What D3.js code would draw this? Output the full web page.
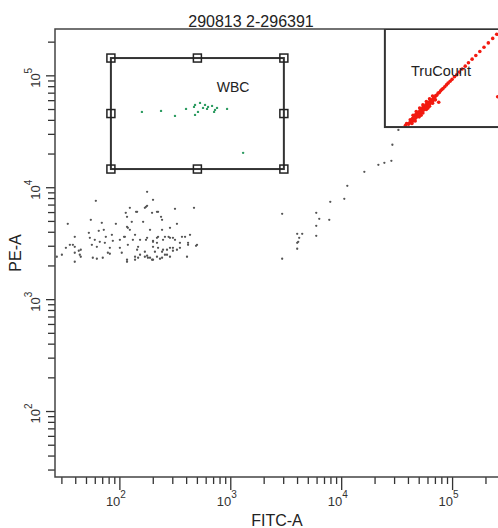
<!DOCTYPE html>
<html lang="en">
<head>
<meta charset="UTF-8">
<title>290813 2-296391</title>
<script src="https://d3js.org/d3.v7.min.js"></script>
<style>
  body { margin: 0; background: #fff; }
  svg { display: block; font-family: "Liberation Sans", Arial, sans-serif; }
</style>
</head>
<body>
<svg id="chart" width="498" height="528"></svg>
<script>
// events: [FITC-A, PE-A]
const otherEvents = [
  [60.7, 7638], [54.7, 5169], [33.9, 4761], [68.7, 4860], [92.0, 4761], [52.5, 3957], [64.5, 4123],
  [71.6, 4209], [116, 4476], [39.2, 3644], [53.6, 3570], [59.4, 3427], [65.9, 3289], [73.2, 3222],
  [84.7, 3797], [100, 3427], [35.4, 3092], [32.6, 2907], [39.2, 2967], [44.4, 2790], [55.9, 3092],
  [62.0, 2967], [81.2, 2907], [100, 2907], [30.0, 2518], [27.0, 2416], [39.2, 2623], [44.4, 2416],
  [57.0, 2367], [62.0, 2319], [70.1, 2367], [77.9, 2623], [104, 2623], [39.2, 2180], [116, 2180],
  [74.7, 3644], [86.4, 3357], [43.5, 2518], [37.7, 3092], [42.6, 2734], [109, 3644], [81.2, 2570],
  [176, 9190], [199, 7797], [123, 6615], [143, 6092], [168, 6615], [176, 6893], [195, 5968],
  [221, 6092], [235, 5496], [240, 5169], [314, 6480], [466, 6615], [116, 5496], [128, 4961],
  [118, 4385], [123, 4209], [162, 4961], [187, 4209], [240, 4209], [283, 4385], [327, 4761],
  [111, 3644], [137, 3797], [152, 3427], [176, 3570], [199, 3357], [216, 3222], [221, 3644],
  [255, 3644], [283, 3570], [314, 3427], [348, 3222], [387, 3644], [429, 3797], [412, 3092],
  [486, 3029], [118, 3092], [146, 2967], [143, 2790], [168, 2678], [199, 2967], [221, 2907],
  [240, 2678], [266, 2790], [301, 2907], [327, 2790], [116, 2272], [137, 2416], [152, 2518],
  [168, 2416], [179, 2367], [195, 2272], [216, 2416], [240, 2367], [255, 2518], [283, 2416],
  [403, 2416], [131, 3427], [245, 3427], [301, 2734], [363, 3644], [207, 2678], [230, 2319],
  [172, 3427], [275, 3644], [113, 5968], [140, 6092], [172, 6752], [216, 6092], [496, 3092],
  [412, 3222], [245, 2790], [283, 2907], [348, 2907], [199, 2272], [266, 2518], [199, 3289],
  [216, 3570], [301, 3570], [137, 2272], [146, 2367], [176, 2466], [187, 2367],
  [32460, 32890], [28650, 24210], [28060, 17390], [24260, 16690], [21415, 16020], [16007, 13870],
  [11236, 10400], [7890, 7483], [10556, 7960], [2906, 5848], [5896, 5970], [6278, 5276],
  [7727, 5169], [5896, 4569], [3971, 3876], [4406, 3876], [4139, 3570], [3971, 3222],
  [4054, 3289], [5896, 3720], [3971, 2848], [2906, 2319]
];

const wbcEvents = [
  [158, 47620], [235, 48610], [314, 43850], [395, 50650], [476, 54990], [466, 52780], [528, 57280],
  [562, 51700], [506, 47620], [476, 44760], [586, 54990], [624, 52780], [611, 50650], [678, 53870],
  [721, 49620], [707, 47620], [752, 51700], [926, 50650], [1292, 20490]
];

const truCountEvents = [
  [37500, 36000], [38500, 37500], [40000, 37000],
  [41000, 38000], [41500, 40500], [42500, 39000], [43500, 41500], [44000, 39500], [45000, 43500],
  [45500, 41000], [46500, 45000], [47000, 42500], [48000, 46000], [48500, 44000], [49500, 47500],
  [50000, 45000], [51000, 49000], [51500, 46500], [52500, 50500], [53000, 48000], [54000, 52000],
  [55000, 49500], [55500, 53500], [56500, 51000], [57500, 55000], [58000, 52500], [59000, 56500],
  [60000, 54000], [61000, 58000], [62000, 56000], [63000, 59500], [64000, 57500], [65000, 61000],
  [66500, 60000], [67500, 63500], [69000, 64000], [70500, 66500], [72000, 67000], [74000, 70000],
  [76000, 71000], [78000, 73500], [80000, 75500], [82000, 77000],
  [44000, 44500], [47000, 48000], [50500, 51500], [54000, 55000], [58000, 59000], [62000, 62500],
  [66000, 66000], [46000, 39500], [50000, 43000], [54000, 46500], [58000, 50000], [62000, 53500],
  [66000, 57000], [70000, 61000], [43000, 37500], [52000, 44500], [60000, 51500],
  [85000, 80000], [88000, 83000], [91000, 86000], [95000, 89500], [99000, 93000], [104000, 98000],
  [109000, 102000], [115000, 108000], [122000, 115000], [130000, 122000], [139000, 131000],
  [150000, 141000], [162000, 152000], [176000, 165000], [192000, 180000], [210000, 197000],
  [230000, 216000], [250000, 235000], [75000, 58000], [255000, 65000]
];

// gates: [x min, x max, y min, y max]
const wbcGate = [83, 3011, 14690, 144200];
const truCountGate = [24520, 400000, 34860, 262143];

const decades = [2, 3, 4, 5];
const minorSteps = [2, 3, 4, 5, 6, 7, 8, 9];

const svg = d3.select('#chart');
const plotLeft = 55, plotRight = 499, plotTop = 29, plotBottom = 477;

const x = d3.scaleLog().domain([26, 262143]).range([plotLeft, plotRight]);
const y = d3.scaleLog().domain([26, 262143]).range([plotBottom, plotTop]);

svg.append('defs').append('clipPath').attr('id', 'plot')
  .append('rect').attr('x', plotLeft).attr('y', plotTop)
  .attr('width', plotRight - plotLeft).attr('height', plotBottom - plotTop);

// title and axis names
svg.append('text').attr('x', 251).attr('y', 27).attr('text-anchor', 'middle')
  .attr('font-size', 16).attr('fill', '#222').text('290813 2-296391');
svg.append('text').attr('x', (plotLeft + plotRight) / 2).attr('y', 526).attr('text-anchor', 'middle')
  .attr('font-size', 16).attr('fill', '#222').text('FITC-A');
svg.append('text').attr('transform', `translate(21,${(plotTop + plotBottom) / 2}) rotate(-90)`)
  .attr('text-anchor', 'middle').attr('font-size', 16).attr('fill', '#222').text('PE-A');

// tick values inside the domain
const majors = decades.map(d => Math.pow(10, d));
const minors = [];
[1, 2, 3, 4, 5].forEach(d => minorSteps.forEach(s => {
  const v = s * Math.pow(10, d);
  if (v > 26 && v < 262143) minors.push(v);
}));

const ticks = svg.append('g').attr('stroke', '#333').attr('stroke-width', 1.3);
minors.forEach(v => {
  ticks.append('line').attr('x1', x(v)).attr('x2', x(v)).attr('y1', plotBottom).attr('y2', plotBottom + 7);
  ticks.append('line').attr('y1', y(v)).attr('y2', y(v)).attr('x1', plotLeft).attr('x2', plotLeft - 7);
});
majors.forEach(v => {
  ticks.append('line').attr('x1', x(v)).attr('x2', x(v)).attr('y1', plotBottom).attr('y2', plotBottom + 13);
  ticks.append('line').attr('y1', y(v)).attr('y2', y(v)).attr('x1', plotLeft).attr('x2', plotLeft - 9);
});

// tick labels: 10 with a superscript exponent
decades.forEach(d => {
  const v = Math.pow(10, d);
  const t = svg.append('text').attr('font-size', 13).attr('fill', '#333')
    .attr('x', x(v) - 14).attr('y', plotBottom + 29);
  t.append('tspan').text('10');
  t.append('tspan').attr('font-size', 10).attr('dy', -8).text(d);

  const ty = svg.append('text').attr('font-size', 13).attr('fill', '#333')
    .attr('text-anchor', 'middle')
    .attr('transform', `translate(40,${y(v) + 2}) rotate(-90)`);
  ty.append('tspan').text('10');
  ty.append('tspan').attr('font-size', 10).attr('dy', -8).text(d);
});

// axis frame
svg.append('path')
  .attr('d', `M${plotRight},${plotTop}H${plotLeft}V${plotBottom}H${plotRight}`)
  .attr('fill', 'none').attr('stroke', '#444').attr('stroke-width', 1.5);

const plot = svg.append('g').attr('clip-path', 'url(#plot)');

plot.selectAll('.other').data(otherEvents).join('circle')
  .attr('cx', d => x(d[0])).attr('cy', d => y(d[1])).attr('r', 1.15)
  .attr('fill', '#555');

plot.selectAll('.wbc').data(wbcEvents).join('circle')
  .attr('cx', d => x(d[0])).attr('cy', d => y(d[1])).attr('r', 1.2)
  .attr('fill', '#2e9c62');

plot.selectAll('.tru').data(truCountEvents).join('circle')
  .attr('cx', d => x(d[0])).attr('cy', d => y(d[1])).attr('r', 1.8)
  .attr('fill', '#f21a10');

// gates
function drawGate(g, handles) {
  const x0 = x(g[0]), x1 = x(g[1]), y0 = y(g[3]), y1 = y(g[2]);
  plot.append('rect').attr('x', x0).attr('y', y0).attr('width', x1 - x0).attr('height', y1 - y0)
    .attr('fill', 'none').attr('stroke', '#333').attr('stroke-width', 2);
  if (!handles) return;
  const xm = x(Math.sqrt(g[0] * g[1])), ym = y(Math.sqrt(g[2] * g[3]));
  const pts = [[x0, y0], [xm, y0], [x1, y0], [x0, ym], [x1, ym], [x0, y1], [xm, y1], [x1, y1]];
  pts.forEach(p => {
    svg.append('rect').attr('x', p[0] - 4).attr('y', p[1] - 4).attr('width', 8).attr('height', 8)
      .attr('fill', 'none').attr('stroke', '#222').attr('stroke-width', 1.5);
  });
}
drawGate(wbcGate, true);
drawGate(truCountGate, false);

svg.append('text').attr('x', x(1050)).attr('y', y(72000)).attr('text-anchor', 'middle')
  .attr('font-size', 14).attr('fill', '#222').text('WBC');
svg.append('text').attr('x', 441).attr('y', 76).attr('text-anchor', 'middle')
  .attr('font-size', 14.5).attr('fill', '#222').text('TruCount');
</script>
</body>
</html>
